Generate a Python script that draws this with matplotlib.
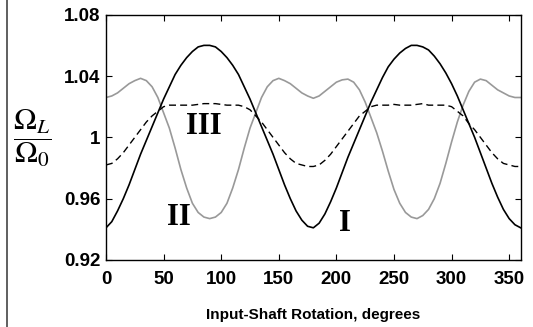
import numpy as np
import matplotlib
matplotlib.use("Agg")
import matplotlib.pyplot as plt
from matplotlib.lines import Line2D

# Input-shaft rotation angles (degrees), every 5 degrees
theta = list(range(0, 361, 5))

# Curve I (black solid)
curve_I = [0.941, 0.945, 0.952, 0.960, 0.969, 0.979, 0.989, 0.998, 1.007, 1.016,
           1.025, 1.033, 1.041, 1.047, 1.052, 1.056, 1.059, 1.060, 1.060, 1.059,
           1.056, 1.052, 1.047, 1.041, 1.033, 1.025, 1.016, 1.007, 0.998, 0.989,
           0.979, 0.969, 0.960, 0.952, 0.946, 0.942, 0.941,
           0.944, 0.950, 0.958, 0.967, 0.977, 0.987, 0.996, 1.005, 1.014,
           1.023, 1.031, 1.039, 1.046, 1.051, 1.055, 1.058, 1.060, 1.060, 1.059,
           1.057, 1.053, 1.048, 1.042, 1.035, 1.027, 1.018, 1.009, 1.000, 0.990,
           0.980, 0.970, 0.961, 0.953, 0.947, 0.943, 0.941]

# Curve II (grey solid)
curve_II = [1.026, 1.027, 1.029, 1.032, 1.035, 1.037, 1.0385, 1.037, 1.033, 1.026,
            1.016, 1.006, 0.993, 0.979, 0.967, 0.957, 0.951, 0.948, 0.947, 0.948,
            0.951, 0.957, 0.967, 0.979, 0.993, 1.006, 1.016, 1.026, 1.033, 1.037,
            1.0385, 1.037, 1.035, 1.032, 1.029, 1.027, 1.0255,
            1.027, 1.030, 1.033, 1.036, 1.0375, 1.038, 1.036, 1.031, 1.023,
            1.013, 1.003, 0.991, 0.978, 0.966, 0.957, 0.951, 0.948, 0.947, 0.949,
            0.953, 0.960, 0.970, 0.983, 0.997, 1.010, 1.021, 1.030, 1.036, 1.038,
            1.037, 1.034, 1.031, 1.029, 1.027, 1.026, 1.026]

# Curve III (black dashed)
curve_III = [0.982, 0.983, 0.986, 0.990, 0.995, 1.000, 1.005, 1.010, 1.014, 1.017,
             1.020, 1.021, 1.021, 1.021, 1.021, 1.021, 1.0215, 1.022, 1.022, 1.022,
             1.0215, 1.021, 1.021, 1.021, 1.020, 1.018, 1.014, 1.010, 1.005, 1.000,
             0.995, 0.990, 0.986, 0.983, 0.982, 0.981, 0.981,
             0.982, 0.985, 0.989, 0.994, 0.999, 1.004, 1.009, 1.014, 1.017,
             1.020, 1.021, 1.021, 1.021, 1.0215, 1.021, 1.021, 1.021, 1.0215, 1.022,
             1.021, 1.021, 1.021, 1.021, 1.020, 1.017, 1.014, 1.009, 1.005, 1.000,
             0.995, 0.990, 0.986, 0.983, 0.982, 0.981, 0.981]

xticks = [0, 50, 100, 150, 200, 250, 300, 350]
yticks = [0.92, 0.96, 1.0, 1.04, 1.08]
yticklabels = ["0.92", "0.96", "1", "1.04", "1.08"]
curve_labels = ["I", "II", "III"]
label_pos = [(207.5, 0.944), (63.5, 0.948), (84.5, 1.0068)]

plt.rcParams['mathtext.fontset'] = 'stix'

fig = plt.figure(figsize=(5.33, 3.27), dpi=100)
ax = fig.add_axes([0.1989, 0.2049, 0.9769 - 0.1989, 0.955 - 0.2049])

ax.plot(theta, curve_II, color='#999999', lw=1.2)
ax.plot(theta, curve_I, color='black', lw=1.2)
ax.plot(theta, curve_III, color='black', lw=1.0, dashes=(5, 3))

ax.set_xlim(0, 360)
ax.set_ylim(0.92, 1.08)
ax.set_xticks(xticks)
ax.set_yticks(yticks)
ax.set_yticklabels(yticklabels)
ax.tick_params(direction='in', top=True, right=True, length=4, width=0.8)
ax.tick_params(axis='x', pad=8)
ax.tick_params(axis='y', pad=4)
for lab in ax.get_xticklabels() + ax.get_yticklabels():
    lab.set_fontfamily('Liberation Sans')
    lab.set_fontweight('bold')
    lab.set_fontsize(13.5)
for sp in ax.spines.values():
    sp.set_linewidth(1.0)

ax.set_xlabel('Input-Shaft Rotation, degrees', fontfamily='Liberation Sans',
              fontweight='bold', fontsize=11, labelpad=14)

for txt, (x, y) in zip(curve_labels, label_pos):
    ax.text(x, y, txt, fontfamily='Liberation Serif', fontweight='bold',
            fontsize=22, ha='center', va='center')

fig.text(32 / 533, 1 - 138 / 327, r'$\dfrac{\Omega_L}{\Omega_0}$',
         fontsize=22, ha='center', va='center')

fig.add_artist(Line2D([6.5 / 533, 6.5 / 533], [0, 1], color='#444444', lw=1.2,
                      transform=fig.transFigure))

fig.savefig('out.png', dpi=100)
